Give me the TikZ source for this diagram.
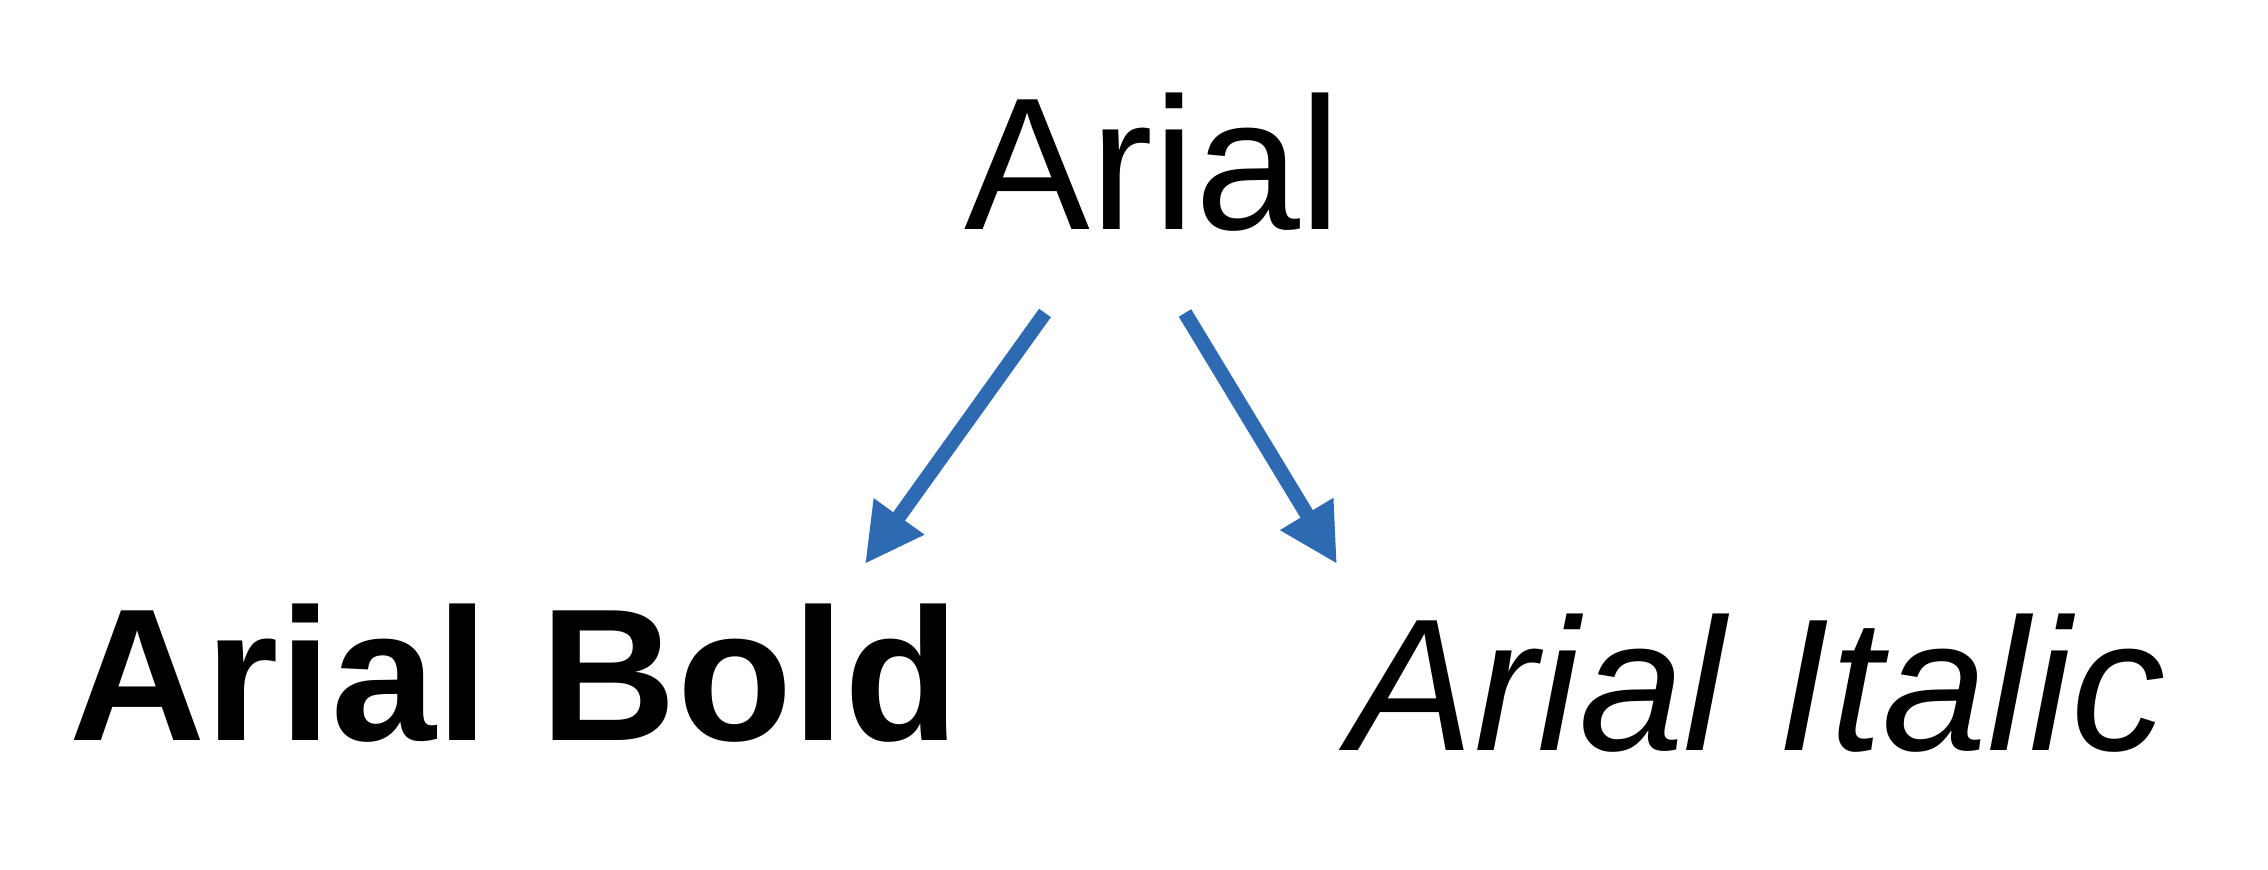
\documentclass[tikz,border=0pt]{standalone}
\usepackage{fontspec}
\setmainfont{Liberation Sans}
\usetikzlibrary{arrows.meta}
\definecolor{arrowblue}{RGB}{46,106,178}
\newcommand{\bigfont}{\fontsize{53.6}{64}\selectfont}

\begin{document}
\begin{tikzpicture}[x=0.01cm, y=-0.01cm, >={Triangle[length=0.585cm,width=0.58cm]},
  every node/.style={inner sep=0pt, anchor=base west, font=\bigfont}]
\useasboundingbox (0,0) rectangle (2268,870);

\node (arial) at (964,230) {Arial};
\node[font=\bigfont\bfseries] (bold) at (69,740) {Arial Bold};
\node[font=\bigfont\itshape] (italic) at (1348,750) {Arial Italic};

% nuolten päät
\coordinate (arial-l) at (1045,313);
\coordinate (arial-r) at (1185,313);
\coordinate (bold-tip) at (865,564);
\coordinate (italic-tip) at (1337,564);

\foreach \a/\b in {arial-l/bold-tip, arial-r/italic-tip}
  \draw [->, arrowblue, line width=0.145cm] (\a) -- (\b);

\end{tikzpicture}
\end{document}
